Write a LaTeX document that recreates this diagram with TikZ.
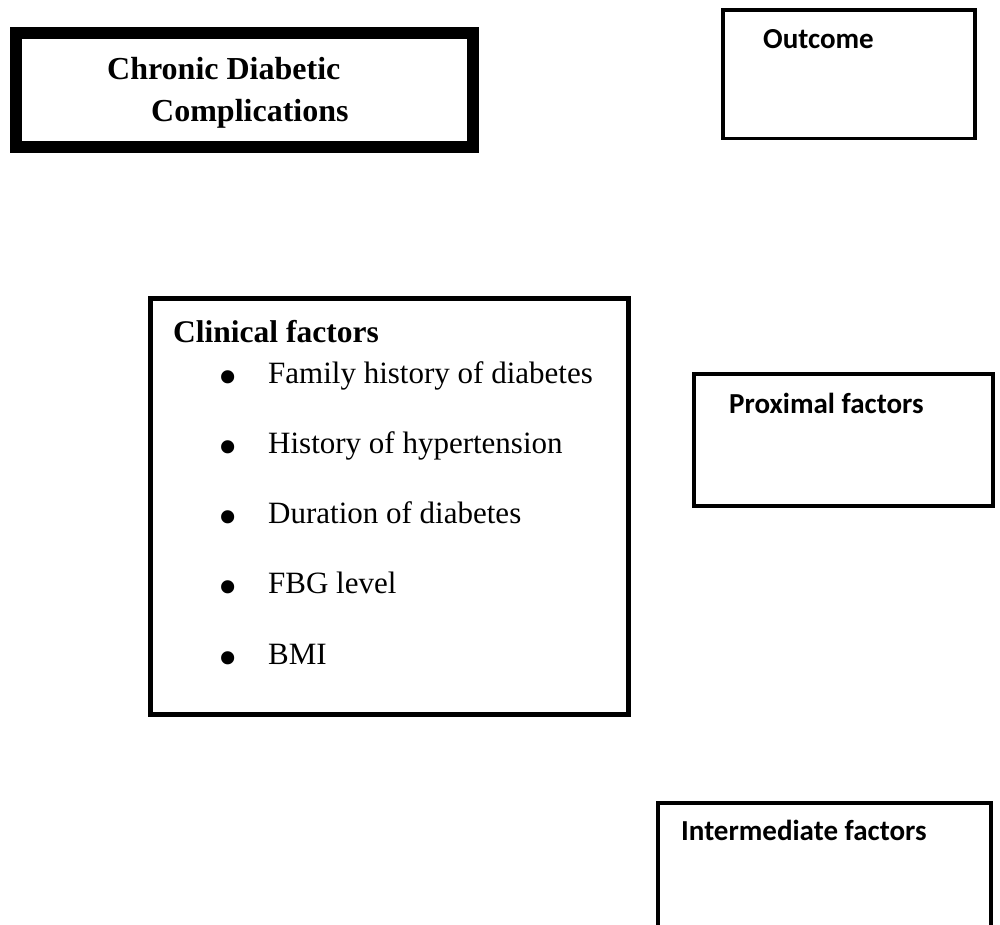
\documentclass[tikz,border=0pt]{standalone}
\usepackage{fontspec}
\setmainfont{Liberation Serif}
\newfontfamily\calibrifont{Carlito}
\tikzset{
  boxframe/.style={draw=black, rectangle, inner sep=0pt, outer sep=0pt},
  serifhead/.style={inner sep=0pt, anchor=base west, font=\fontsize{32}{38}\selectfont\bfseries},
  seriftitle/.style={inner sep=0pt, anchor=base west, font=\fontsize{31.5}{38}\selectfont\bfseries},
  itemtext/.style={inner sep=0pt, anchor=base west, font=\fontsize{31}{37}\selectfont},
  bulletmark/.style={inner sep=0pt, anchor=base, font=\fontsize{55}{60}\selectfont},
  sanslabel/.style={inner sep=0pt, anchor=base west, font=\fontsize{29}{35}\selectfont\calibrifont\bfseries}
}
\begin{document}
\begin{tikzpicture}[x=1pt, y=-1pt]
\useasboundingbox (0,0) rectangle (1000,925);
% boxes
\node[boxframe, line width=12pt, minimum width=457.5pt, minimum height=114.5pt] (chronic) at (244.25,90.25) {};
\node[boxframe, line width=3.5pt, minimum width=252pt, minimum height=128.5pt] (outcome) at (849,74.25) {};
\node[boxframe, line width=5pt, minimum width=478pt, minimum height=416.5pt] (clinical) at (389,506.25) {};
\node[boxframe, line width=4pt, minimum width=299pt, minimum height=132pt] (proximal) at (843.5,440) {};
\coordinate (intBL) at (658,925);
\coordinate (intTR) at (991,802.5);
\coordinate (intBR) at (991,925);
\draw[line width=4pt] (intBL) |- (intTR) -- (intBR);
% texts
\node[serifhead] (ch1) at (107,80) {Chronic Diabetic};
\node[serifhead] (ch2) at (151,122) {Complications};
\node[sanslabel] (outt) at (763,49) {Outcome};
\node[seriftitle] (clt) at (173,342) {Clinical factors};
\node[bulletmark] (b1) at (228,395) {\textbullet};
\node[bulletmark] (b2) at (228,465) {\textbullet};
\node[bulletmark] (b3) at (228,535) {\textbullet};
\node[bulletmark] (b4) at (228,605) {\textbullet};
\node[bulletmark] (b5) at (228,676) {\textbullet};
\node[itemtext] (i1) at (268,383) {Family history of diabetes};
\node[itemtext] (i2) at (268,453) {History of hypertension};
\node[itemtext] (i3) at (268,523) {Duration of diabetes};
\node[itemtext] (i4) at (268,593) {FBG level};
\node[itemtext] (i5) at (268,664) {BMI};
\node[sanslabel] (prt) at (729,413) {Proximal factors};
\node[sanslabel] (intt) at (681,840) {Intermediate factors};
\end{tikzpicture}
\end{document}
